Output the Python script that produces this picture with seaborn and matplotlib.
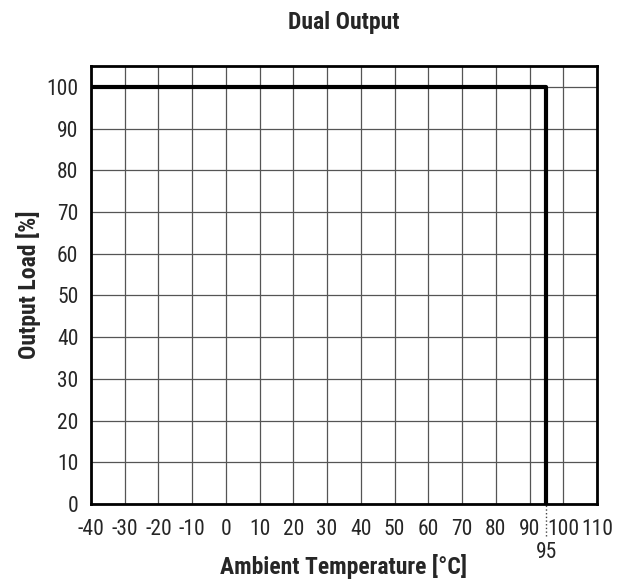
import numpy as np
import pandas as pd
import matplotlib
matplotlib.use("Agg")
import matplotlib.pyplot as plt
import seaborn as sns

# derating curve data
temps = [-40, 95, 95]
loads = [100, 100, 0]
x_ticks = list(range(-40, 111, 10))
y_ticks = list(range(0, 101, 10))

df = pd.DataFrame({"temp": temps, "load": loads})

sns.set_style("white")
cond = ["Roboto Condensed", "Liberation Sans Narrow", "Roboto", "DejaVu Sans"]
plt.rcParams["font.family"] = cond

fig = plt.figure(figsize=(6.27, 5.79), dpi=100)
ax = fig.add_axes([0.1451, 0.1295, 0.807, 0.7565])

sns.lineplot(data=df, x="temp", y="load", sort=False, estimator=None,
             color="black", linewidth=3, ax=ax, zorder=3)

ax.set_xlim(-40, 110)
ax.set_ylim(0, 105)
ax.set_xticks(x_ticks)
ax.set_yticks(y_ticks)
ax.set_xticklabels([str(t) for t in x_ticks], fontsize=15.5)
ax.set_yticklabels([str(t) for t in y_ticks], fontsize=15.5)
ax.grid(True, color="#555555", linewidth=0.9)
ax.tick_params(axis="y", length=0, pad=9)
ax.tick_params(axis="x", length=0, pad=11)

# extra 95 label below axis with dotted guide
ax.set_xticks([95], minor=True)
ax.set_xticklabels(["95"], minor=True, fontsize=15.5)
ax.tick_params(axis="x", which="minor", length=0, pad=27)
ax.axvline(95, ymin=-0.072, ymax=0, color="#444444", linestyle=":",
           linewidth=1, clip_on=False)

for s in ax.spines.values():
    s.set_color("black")
    s.set_linewidth(2)

ax.set_title("Dual Output", fontsize=17, fontweight="bold", pad=27)
ax.set_xlabel("Ambient Temperature [°C]", fontsize=17, fontweight="bold")
ax.set_ylabel("Output Load [%]", fontsize=17, fontweight="bold")
ax.xaxis.set_label_coords(0.5, -0.1416)
ax.xaxis.label.set_va("center")
ax.yaxis.set_label_coords(-0.1225, 0.5)
ax.yaxis.label.set_va("center")

fig.savefig("out.png", dpi=100)
